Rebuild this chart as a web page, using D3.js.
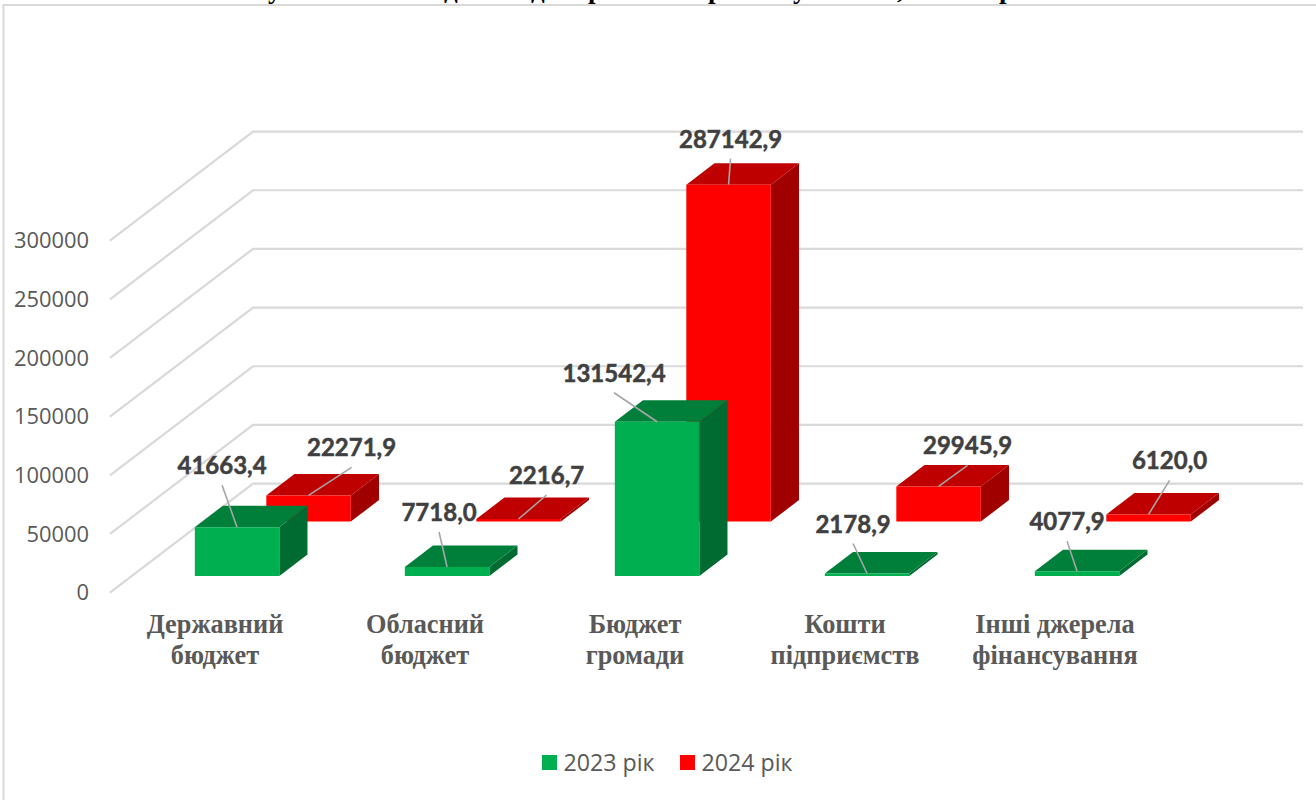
<!DOCTYPE html>
<html>
<head>
<meta charset="utf-8">
<script src="https://cdn.jsdelivr.net/npm/d3@7"></script>
<style>html,body{margin:0;padding:0;background:#fff;overflow:hidden}svg{display:block}</style>
</head>
<body>
<svg id="chart" width="1316" height="800"></svg>
<script>
const categories = ["Державний бюджет", "Обласний бюджет", "Бюджет громади", "Кошти підприємств", "Інші джерела фінансування"];
const categoryLines = [["Державний", "бюджет"], ["Обласний", "бюджет"], ["Бюджет", "громади"], ["Кошти", "підприємств"], ["Інші джерела", "фінансування"]];
const seriesNames = ["2023 рік", "2024 рік"];
const values2023 = [41663.4, 7718.0, 131542.4, 2178.9, 4077.9];
const values2024 = [22271.9, 2216.7, 287142.9, 29945.9, 6120.0];
const yTicks = [0, 50000, 100000, 150000, 200000, 250000, 300000];

// Only the bottom edge of the title survives in the source image: these are the glyph tails that can be seen.
const titleTails = ["у", "д", "д", "р", "р", "у", ",", "р"];
const titleTailX = [268, 444, 531, 588, 708, 793, 897, 999];

// Leader-line ends, relative to the middle of the bar's front top edge.
const leader2023 = [[-15, -42], [-8, -35], [-43, -29], [-14, -30], [-10, -30]];
const leader2024 = [[43, -28], [28, -24], [2, -26], [29, -21], [21, -34]];

const colours = {
  "2023 рік": {front: "#00B050", top: "#007F3A", side: "#006B31"},
  "2024 рік": {front: "#FF0000", top: "#BF0000", side: "#A00000"}
};
const gridColour = "#D9D9D9", axisText = "#595959", labelText = "#404040";

const svg = d3.select("#chart");
const fmt = d3.formatLocale({decimal: ",", thousands: "", grouping: [3], currency: ["", ""]}).format(".1f");

const x = d3.scaleBand().domain(categories).range([110, 1160]);
const y = d3.scaleLinear().domain([0, 300000]).range([592.6, 240.6]);
const z = d3.scaleBand().domain(seriesNames).range([0, 1]);
const depthX = d3.scaleLinear().domain([0, 1]).range([0, 143]);
const depthY = d3.scaleLinear().domain([0, 1]).range([0, -109]);
const barWidth = 84.5, barDepth = 0.197, barNudge = 0.4;

const P = (px, v, d) => [px + depthX(d), y(v) + depthY(d)];
const poly = pts => pts.map(p => p.join(",")).join(" ");

// frame
svg.append("rect").attr("x", 3.5).attr("y", 5).attr("width", 1400).attr("height", 900)
  .attr("fill", "#fff").attr("stroke", gridColour).attr("stroke-width", 2);

// clipped title tails
svg.append("text").attr("y", -2.5)
  .attr("x", titleTailX.join(" "))
  .attr("font-family", "'Liberation Serif'").attr("font-weight", "bold").attr("font-size", 27)
  .attr("fill", "#000").text(titleTails.join(""));

// walls
const grid = svg.append("g").attr("fill", "none").attr("stroke", gridColour).attr("stroke-width", 2.2);
yTicks.forEach(t => {
  const a = P(110, t, 0), b = P(110, t, 1), c = P(1160, t, 1);
  grid.append("polyline").attr("points", poly([a, b, c]));
});

// y axis text
svg.append("g").selectAll("text").data(yTicks).join("text")
  .attr("x", 89).attr("y", d => y(d)).attr("dy", "0.35em").attr("text-anchor", "end")
  .attr("font-family", "'Open Sans'").attr("font-size", 21.9).attr("fill", axisText)
  .text(d => d3.format("d")(d));

// category text
svg.append("g").selectAll("text").data(categories).join("text")
  .attr("text-anchor", "middle")
  .attr("font-family", "'Liberation Serif'").attr("font-weight", "bold").attr("font-size", 26.3).attr("fill", axisText)
  .each(function(c, i) {
    d3.select(this).selectAll("tspan").data(categoryLines[i]).join("tspan")
      .attr("x", x(c) + x.bandwidth() / 2)
      .attr("y", (d, j) => 633 + j * 30.5)
      .text(d => d);
  });

// bars: back row first
const rows = [
  {name: seriesNames[1], values: values2024, leader: leader2024},
  {name: seriesNames[0], values: values2023, leader: leader2023}
];
const bars = svg.append("g"), overlays = svg.append("g");
rows.forEach(row => {
  const col = colours[row.name];
  const z0 = z(row.name) + z.bandwidth() / 2 - barDepth / 2, z1 = z0 + barDepth;
  categories.forEach((c, i) => {
    const v = row.values[i];
    const l = x(c) + x.bandwidth() / 2 - barWidth / 2 + barNudge, r = l + barWidth;
    bars.append("polygon").attr("fill", col.side)
      .attr("points", poly([P(r, 0, z0), P(r, 0, z1), P(r, v, z1), P(r, v, z0)]));
    bars.append("polygon").attr("fill", col.top)
      .attr("points", poly([P(l, v, z0), P(r, v, z0), P(r, v, z1), P(l, v, z1)]));
    bars.append("polygon").attr("fill", col.front)
      .attr("points", poly([P(l, 0, z0), P(r, 0, z0), P(r, v, z0), P(l, v, z0)]));

    const base = P((l + r) / 2, v, z0);
    const end = [base[0] + row.leader[i][0], base[1] + row.leader[i][1]];
    overlays.append("line").attr("x1", base[0]).attr("y1", base[1]).attr("x2", end[0]).attr("y2", end[1])
      .attr("stroke", "#A6A6A6").attr("stroke-width", 1.6);
    overlays.append("text").attr("x", end[0]).attr("y", end[1] - 11)
      .attr("text-anchor", "middle")
      .attr("font-family", "Lato").attr("font-weight", "bold").attr("font-size", 24)
      .attr("fill", labelText).attr("stroke", labelText).attr("stroke-width", 0.5)
      .text(fmt(v));
  });
});

// legend
const legendX = d3.scaleOrdinal().domain(seriesNames).range([542, 680]);
const legend = svg.append("g").selectAll("g").data(seriesNames).join("g")
  .attr("transform", d => `translate(${legendX(d)},755)`);
legend.append("rect").attr("width", 15).attr("height", 15).attr("fill", d => colours[d].front);
legend.append("text").attr("x", 21.5).attr("y", 15.5)
  .attr("font-family", "'Open Sans'").attr("font-size", 23.2).attr("fill", axisText).text(d => d);
</script>
</body>
</html>
